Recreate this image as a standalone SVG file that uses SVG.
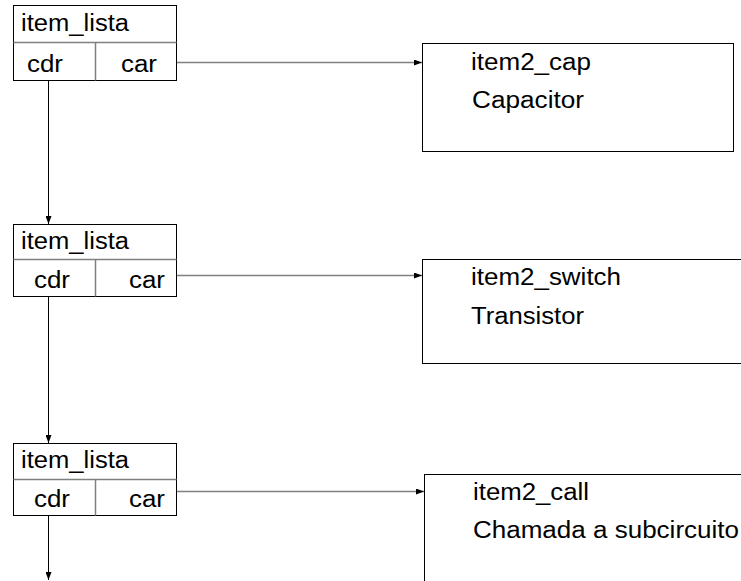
<svg xmlns="http://www.w3.org/2000/svg" width="741" height="581" viewBox="0 0 741 581">
  <style>
    .frame { fill: #fff; stroke: #000; stroke-width: 1; }
    .div { stroke: #808080; stroke-width: 1.5; fill: none; }
    .lbl { font-family: "Liberation Sans", Arial, sans-serif; font-size: 23.5px; fill: #000; }
    .down { stroke: #000; stroke-width: 1; fill: none; marker-end: url(#head); }
    .right { stroke: #808080; stroke-width: 1.5; fill: none; marker-end: url(#head); }
  </style>
  <defs>
    <marker id="head" viewBox="0 0 8 6" refX="8" refY="3" markerWidth="8" markerHeight="6" markerUnits="userSpaceOnUse" orient="auto">
      <path d="M0,0 L8,3 L0,6 Z" fill="#000"/>
    </marker>
  </defs>
  <rect width="741" height="581" fill="#fff"/>

  <!-- list cells -->
  <g id="cell1">
    <rect class="frame" x="13.5" y="5.5" width="163" height="75"/>
    <line class="div" x1="13.5" y1="42.5" x2="176.5" y2="42.5"/>
    <line class="div" x1="95.5" y1="42.5" x2="95.5" y2="80.5"/>
    <text class="lbl" x="21" y="31" textLength="108" lengthAdjust="spacingAndGlyphs">item_lista</text>
    <text class="lbl" x="27" y="72" textLength="36" lengthAdjust="spacingAndGlyphs">cdr</text>
    <text class="lbl" x="121" y="72" textLength="36" lengthAdjust="spacingAndGlyphs">car</text>
  </g>
  <g id="cell2">
    <rect class="frame" x="13.5" y="224.5" width="163" height="72"/>
    <line class="div" x1="13.5" y1="259.5" x2="176.5" y2="259.5"/>
    <line class="div" x1="95.5" y1="259.5" x2="95.5" y2="296.5"/>
    <text class="lbl" x="21" y="249" textLength="108" lengthAdjust="spacingAndGlyphs">item_lista</text>
    <text class="lbl" x="34" y="288" textLength="36" lengthAdjust="spacingAndGlyphs">cdr</text>
    <text class="lbl" x="129" y="288" textLength="36" lengthAdjust="spacingAndGlyphs">car</text>
  </g>
  <g id="cell3">
    <rect class="frame" x="13.5" y="443.5" width="163" height="72"/>
    <line class="div" x1="13.5" y1="479.5" x2="176.5" y2="479.5"/>
    <line class="div" x1="95.5" y1="479.5" x2="95.5" y2="515.5"/>
    <text class="lbl" x="21" y="468" textLength="108" lengthAdjust="spacingAndGlyphs">item_lista</text>
    <text class="lbl" x="34" y="507" textLength="36" lengthAdjust="spacingAndGlyphs">cdr</text>
    <text class="lbl" x="129" y="507" textLength="36" lengthAdjust="spacingAndGlyphs">car</text>
  </g>

  <!-- list items -->
  <g id="item-cap">
    <rect class="frame" x="422.5" y="43.5" width="311" height="108"/>
    <text class="lbl" x="471" y="70" textLength="120" lengthAdjust="spacingAndGlyphs">item2_cap</text>
    <text class="lbl" x="472" y="108" textLength="112" lengthAdjust="spacingAndGlyphs">Capacitor</text>
  </g>
  <g id="item-switch">
    <rect class="frame" x="422.5" y="259.5" width="340" height="104"/>
    <text class="lbl" x="471" y="285" textLength="150" lengthAdjust="spacingAndGlyphs">item2_switch</text>
    <text class="lbl" x="471" y="324" textLength="113" lengthAdjust="spacingAndGlyphs">Transistor</text>
  </g>
  <g id="item-call">
    <rect class="frame" x="424.5" y="474.5" width="340" height="130"/>
    <text class="lbl" x="473" y="500" textLength="116" lengthAdjust="spacingAndGlyphs">item2_call</text>
    <text class="lbl" x="473" y="538" textLength="266" lengthAdjust="spacingAndGlyphs">Chamada a subcircuito</text>
  </g>

  <!-- pointers -->
  <g id="connectors">
    <line class="down" x1="48.5" y1="81" x2="48.5" y2="224"/>
    <line class="down" x1="48.5" y1="297" x2="48.5" y2="443"/>
    <line class="down" x1="48.5" y1="516" x2="48.5" y2="580"/>
    <line class="right" x1="177" y1="62.5" x2="422" y2="62.5"/>
    <line class="right" x1="177" y1="275.5" x2="422" y2="275.5"/>
    <line class="right" x1="177" y1="491.5" x2="424" y2="491.5"/>
  </g>
</svg>
